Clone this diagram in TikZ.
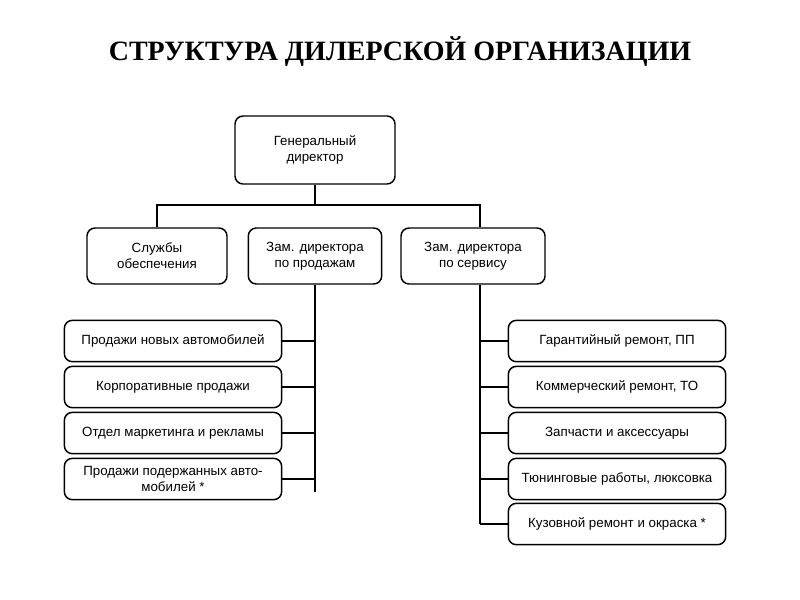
\documentclass[tikz,border=0pt]{standalone}
\usepackage{fontspec}
\setmainfont{Liberation Sans}
\newfontfamily\titlefont{Liberation Serif}
\begin{document}
\begin{tikzpicture}[x=0.75pt,y=-0.75pt,
 bx/.style={draw,line width=1.1pt,rounded corners=6pt,align=center,font=\fontsize{10}{12}\selectfont,inner sep=0pt},
 ln/.style={line width=1.1pt}]
\useasboundingbox (0,0) rectangle (800,600);
\node[font=\titlefont\bfseries\fontsize{21}{24}\selectfont] (t) at (400,52) {СТРУКТУРА ДИЛЕРСКОЙ ОРГАНИЗАЦИИ};
\node[bx,minimum width=120pt,minimum height=51pt] (gd) at (315,150) {Генеральный\\директор};
\node[bx,minimum width=105pt,minimum height=42pt] (sl) at (157,256) {Службы\\обеспечения};
\node[bx,minimum width=100pt,minimum height=42pt] (zp) at (315,256) {Зам. директора\\по продажам};
\node[bx,minimum width=108pt,minimum height=42pt] (zs) at (473,256) {Зам. директора\\по сервису};
\foreach \n/\y/\t in {l1/341/Продажи новых автомобилей,l2/387/Корпоративные продажи,l3/433/Отдел маркетинга и рекламы,l4/479/{Продажи подержанных авто-\\мобилей *}}
  \node[bx,minimum width=163pt,minimum height=31pt] (\n) at (173,\y) {\t};
\foreach \n/\y/\t in {r1/341/{Гарантийный ремонт, ПП},r2/387/{Коммерческий ремонт, ТО},r3/433/Запчасти и аксессуары,r4/479/{Тюнинговые работы, люксовка},r5/524/Кузовной ремонт и окраска *}
  \node[bx,minimum width=163pt,minimum height=31pt] (\n) at (617,\y) {\t};
\coordinate (bl) at (157,205); \coordinate (br) at (480,205);
\coordinate (lb) at (315,492); \coordinate (rb) at (480,524);
\draw[ln] (gd.south) -- (315,205);
\draw[ln] (sl.north) -- (bl) -- (br) -- (br|-zs.north);
\draw[ln] (zp.south) -- (lb);
\draw[ln] (br|-zs.south) -- (rb);
\foreach \n in {l1,l2,l3} \draw[ln] (\n.east) -- (\n.east-|lb);
\draw[ln] (l4.east) -- (lb|-l4.east);
\foreach \n in {r1,r2,r3,r4,r5} \draw[ln] (\n.west) -- (\n.west-|rb);
\end{tikzpicture}
\end{document}
